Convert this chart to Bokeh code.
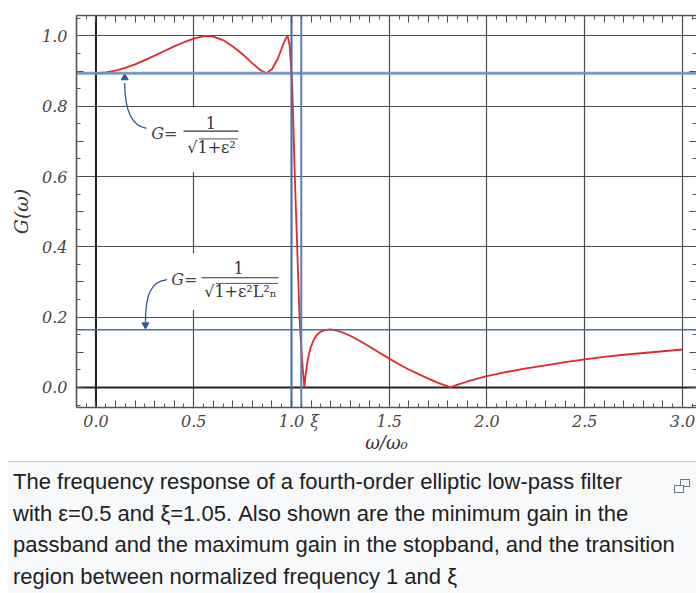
import math
from bokeh.plotting import figure
from bokeh.models import (FixedTicker, LinearAxis, Range1d, Span, Div, Grid,
                          ColumnDataSource)
from bokeh.layouts import column
from bokeh.core.properties import value
from bokeh.embed import file_html
from bokeh.resources import INLINE

# ---- data ----
freq = [0.00, 0.05, 0.10, 0.15, 0.20, 0.25, 0.30, 0.35, 0.40, 0.45, 0.50, 0.55,
        0.57, 0.60, 0.65, 0.70, 0.75, 0.80, 0.84, 0.87, 0.90, 0.93, 0.955, 0.97,
        0.98, 0.99, 1.00, 1.004, 1.007, 1.012, 1.017, 1.023, 1.029, 1.035, 1.041,
        1.047, 1.053, 1.059, 1.066, 1.072, 1.08, 1.09, 1.10, 1.115, 1.13, 1.15,
        1.175, 1.20, 1.23, 1.26, 1.30, 1.35, 1.40, 1.45, 1.50, 1.55, 1.60, 1.65,
        1.70, 1.75, 1.813, 1.85, 1.90, 1.95, 2.00, 2.10, 2.20, 2.30, 2.40, 2.50,
        2.60, 2.70, 2.80, 2.90, 3.00]
gain = [0.894, 0.896, 0.901, 0.909, 0.919, 0.931, 0.944, 0.957, 0.970, 0.982, 0.992, 0.999,
        1.000, 0.998, 0.988, 0.970, 0.948, 0.922, 0.903, 0.894, 0.905, 0.935, 0.972, 0.992,
        1.000, 0.975, 0.894, 0.850, 0.800, 0.700, 0.600, 0.500, 0.400, 0.300, 0.200,
        0.140, 0.090, 0.045, 0.000, 0.035, 0.068, 0.097, 0.117, 0.137, 0.150, 0.159,
        0.164, 0.165, 0.162, 0.157, 0.147, 0.132, 0.116, 0.099, 0.082, 0.066, 0.051, 0.038,
        0.025, 0.013, 0.000, 0.008, 0.017, 0.025, 0.032, 0.044, 0.054, 0.063, 0.072, 0.080,
        0.087, 0.093, 0.098, 0.103, 0.108]

passband_min_gain = 0.894
stopband_max_gain = 0.164
omega_edge = 1.0
xi = 1.05

x_tick_values = [0.0, 0.5, 1.0, 1.5, 2.0, 2.5, 3.0]
x_tick_labels = ["0.0", "0.5", "1.0", "1.5", "2.0", "2.5", "3.0"]
y_tick_values = [0.0, 0.2, 0.4, 0.6, 0.8, 1.0]
y_tick_labels = ["0.0", "0.2", "0.4", "0.6", "0.8", "1.0"]
xi_label_pos = 1.118
xi_label = "ξ"

caption_lines = [
    "The frequency response of a fourth-order elliptic low-pass filter",
    "with ε=0.5 and ξ=1.05. Also shown are the minimum gain in the",
    "passband and the maximum gain in the stopband, and the transition",
    "region between normalized frequency 1 and ξ",
]

# ---- figure ----
p = figure(frame_width=620, frame_height=392,
           x_range=Range1d(-0.0997, 3.0716), y_range=Range1d(-0.057, 1.058),
           x_axis_location=None, y_axis_location=None,
           output_backend="svg", toolbar_location=None,
           min_border_left=76, min_border_top=15, min_border_right=0,
           min_border_bottom=49, background_fill_color="white",
           border_fill_color="white", outline_line_color=None)

x_major = [round(i * 0.1, 2) for i in range(0, 31)]
x_minor = [round(i * 0.05, 3) for i in range(-1, 62)]
y_major = [round(i * 0.1, 2) for i in range(0, 11)]
y_minor = [round(i * 0.05, 3) for i in range(-1, 22)]
y_over = {t: "" for t in y_major}
y_over.update(dict(zip(y_tick_values, y_tick_labels)))

FONT = "DejaVu Serif"


def style_axis(ax, labels=True):
    ax.axis_line_color = "#555555"
    ax.axis_line_width = 1.6
    ax.major_tick_in = 7
    ax.major_tick_out = 0
    ax.minor_tick_in = 4
    ax.minor_tick_out = 0
    ax.major_tick_line_color = "#444444"
    ax.minor_tick_line_color = "#555555"
    ax.major_label_text_font = FONT
    ax.major_label_text_font_style = "italic"
    ax.major_label_text_color = "#454545"
    if labels:
        ax.major_label_text_font_size = "16px"
    else:
        ax.major_label_text_font_size = "0px"
        ax.major_label_standoff = 0


# bottom: tick marks (next to frame) + label-only axis
xb_ticks = LinearAxis(ticker=FixedTicker(ticks=x_major, minor_ticks=x_minor),
                      major_label_overrides={t: "" for t in x_major})
style_axis(xb_ticks, labels=False)
p.add_layout(xb_ticks, "below")

lab_ticks = x_tick_values + [xi_label_pos]
lab_over = dict(zip(x_tick_values, x_tick_labels))
lab_over[xi_label_pos] = xi_label
xb = LinearAxis(ticker=FixedTicker(ticks=lab_ticks, minor_ticks=[]),
                major_label_overrides=lab_over, axis_label="ω/ω₀")
style_axis(xb)
xb.axis_line_color = None
xb.major_tick_in = 0
xb.major_tick_line_color = None
xb.major_label_standoff = 4
xb.axis_label_standoff = -2
xb.axis_label_text_font = FONT
xb.axis_label_text_font_style = "italic"
xb.axis_label_text_font_size = "18px"
xb.axis_label_text_color = "#333333"
p.add_layout(xb, "below")

xt = LinearAxis(ticker=FixedTicker(ticks=x_major, minor_ticks=x_minor),
                major_label_overrides={t: "" for t in x_major})
style_axis(xt, labels=False)
p.add_layout(xt, "above")

yl = LinearAxis(ticker=FixedTicker(ticks=y_major, minor_ticks=y_minor),
                major_label_overrides=y_over, axis_label="G(ω)")
style_axis(yl)
yl.major_label_standoff = 9
yl.axis_label_standoff = 7
yl.axis_label_text_font = FONT
yl.axis_label_text_font_style = "italic"
yl.axis_label_text_font_size = "19px"
yl.axis_label_text_color = "#333333"
p.add_layout(yl, "left")

yr = LinearAxis(ticker=FixedTicker(ticks=y_major, minor_ticks=y_minor),
                major_label_overrides={t: "" for t in y_major})
style_axis(yr, labels=False)
yr.axis_line_color = None
p.add_layout(yr, "right")

p.add_layout(Grid(dimension=0, ticker=FixedTicker(ticks=x_tick_values),
                  grid_line_color="#333333", grid_line_alpha=0.85, grid_line_width=1.2))
p.add_layout(Grid(dimension=1, ticker=FixedTicker(ticks=y_tick_values),
                  grid_line_color="#333333", grid_line_alpha=0.85, grid_line_width=1.2))

for dim in ("height", "width"):
    p.add_layout(Span(location=0.0, dimension=dim, line_color="#222222",
                      line_width=2, level="underlay"))

# white boxes behind annotation texts
p.quad(left=[0.25, 0.37], right=[0.74, 0.94], bottom=[0.612, 0.22], top=[0.796, 0.381],
       fill_color="white", line_color=None)

# reference lines
BLUE = "#4a6fa8"
p.add_layout(Span(location=passband_min_gain, dimension="width", line_color="#6f8fc2",
                  line_width=3, line_alpha=0.9, level="glyph"))
p.add_layout(Span(location=stopband_max_gain, dimension="width", line_color=BLUE,
                  line_width=1.6, level="glyph"))
p.add_layout(Span(location=omega_edge, dimension="height", line_color=BLUE,
                  line_width=2, level="glyph"))
p.add_layout(Span(location=xi, dimension="height", line_color="#5a7fb8",
                  line_width=2, level="glyph"))

# gain curve
src = ColumnDataSource(dict(x=freq, y=gain))
p.line("x", "y", source=src, line_color="#dd2a2a", line_width=1.8)

# annotation arrows
ARROW = "#2c5597"
p.bezier(x0=[0.258, 0.364], y0=[0.737, 0.307], x1=[0.147, 0.253], y1=[0.866, 0.186],
         cx0=[0.17, 0.279], cy0=[0.745, 0.302], cx1=[0.147, 0.253], cy1=[0.80, 0.262],
         line_color=ARROW, line_width=1.3)
p.scatter(x=[0.147, 0.253], y=[0.881, 0.178], marker="triangle", size=7,
          angle=[0, math.pi], fill_color=ARROW, line_color=ARROW)

# annotation texts (formula labels)
p.text(x=[0.417, 0.519], y=[0.7225, 0.307], text=["G=", "G="],
       text_font=value(FONT), text_font_style="italic", text_font_size="16px",
       text_color="#444444", text_align="right", text_baseline="middle")
p.text(x=[0.588, 0.729], y=[0.753, 0.340], text=["1", "1"],
       text_font=value(FONT), text_font_size="16px", text_color="#333333",
       text_align="center", text_baseline="middle")
p.text(x=[0.591, 0.739], y=[0.683, 0.272], text=["√1+ε²", "√1+ε²L²ₙ"],
       text_font=value(FONT), text_font_size="16px", text_color="#333333",
       text_align="center", text_baseline="middle")
p.segment(x0=[0.448, 0.540], y0=[0.729, 0.312], x1=[0.729, 0.934], y1=[0.729, 0.312],
          line_color="#333333", line_width=1.2)
p.segment(x0=[0.527, 0.614], y0=[0.707, 0.296], x1=[0.727, 0.931], y1=[0.707, 0.296],
          line_color="#555555", line_width=1.0)

icon = ('<svg width="16" height="14" style="position:absolute;right:6px;top:17px">'
        '<rect x="6.5" y="0.5" width="9" height="7" fill="none" stroke="#72777d"/>'
        '<rect x="0.5" y="6.5" width="9" height="7" fill="#f8f9fa" stroke="#72777d"/></svg>')
cap = Div(text=icon + "<br>".join(caption_lines), width=688, height=137,
          styles={"background-color": "#f8f9fa", "border-top": "1px solid #c8ccd1",
                  "font-family": "'Liberation Sans', Arial, sans-serif",
                  "font-size": "22px", "line-height": "31.7px", "color": "#202122",
                  "padding": "4px 0 0 5px", "box-sizing": "border-box",
                  "margin-left": "8px",
                  "white-space": "nowrap", "position": "relative", "overflow": "hidden"})

layout = column(p, cap, spacing=0)
open("out.html", "w").write(file_html(layout, INLINE))
